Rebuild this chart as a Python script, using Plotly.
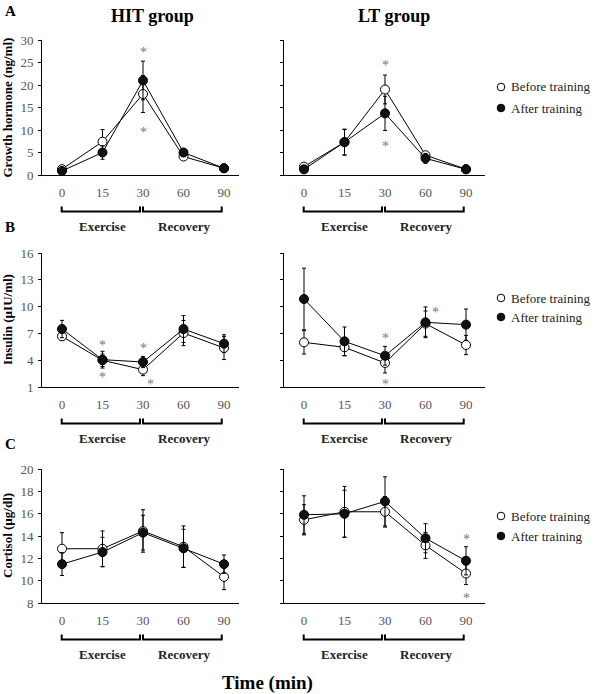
import plotly.graph_objects as go

W, H = 600, 694
FONT = "Liberation Serif"

times = ["0", "15", "30", "60", "90"]
groups = ["HIT group", "LT group"]
series_names = ["Before training", "After training"]
phase_labels = ["Exercise", "Recovery"]

# Growth hormone (ng/ml)
gh_hit_before = [1.3, 7.4, 18.0, 4.1, 1.5]
gh_hit_before_err = [0.5, 2.7, 4.1, 0.6, 0.4]
gh_hit_after = [0.9, 5.0, 21.0, 5.0, 1.5]
gh_hit_after_err = [0.4, 1.5, 4.3, 0.8, 0.4]
gh_lt_before = [1.85, 7.3, 19.0, 4.4, 1.3]
gh_lt_before_err = [0.5, 2.8, 3.2, 0.6, 0.3]
gh_lt_after = [1.26, 7.3, 13.7, 3.7, 1.26]
gh_lt_after_err = [0.4, 2.9, 3.8, 1.1, 0.3]

# Insulin (µIU/ml)
ins_hit_before = [6.67, 3.99, 2.94, 7.04, 5.37]
ins_hit_before_err = [0.45, 0.7, 0.67, 1.41, 1.3]
ins_hit_after = [7.49, 4.06, 3.8, 7.49, 5.85]
ins_hit_after_err = [0.97, 0.94, 0.63, 1.5, 1.0]
ins_lt_before = [6.0, 5.44, 3.69, 8.09, 5.7]
ins_lt_before_err = [1.31, 0.94, 1.12, 1.42, 1.08]
ins_lt_after = [10.85, 6.11, 4.5, 8.24, 7.98]
ins_lt_after_err = [3.45, 1.61, 1.05, 1.72, 1.75]

# Cortisol (µg/dl)
cor_hit_before = [12.86, 12.86, 14.45, 13.04, 10.34]
cor_hit_before_err = [1.44, 1.59, 1.9, 1.86, 1.14]
cor_hit_after = [11.48, 12.56, 14.3, 12.9, 11.48]
cor_hit_after_err = [1.02, 1.32, 1.56, 1.7, 0.82]
cor_lt_before = [15.45, 16.17, 16.17, 13.16, 10.64]
cor_lt_before_err = [1.35, 2.27, 1.37, 1.16, 0.99]
cor_lt_after = [15.9, 15.99, 17.1, 13.8, 11.78]
cor_lt_after_err = [1.7, 2.11, 2.2, 1.3, 1.26]

# significance asterisks: (time index, value, x pixel shift)
ast_gh_hit = [(2, 27.9, 0), (2, 10.1, 0)]
ast_gh_lt = [(2, 25.0, 0), (2, 6.9, 0)]
ast_ins_hit = [(1, 6.0, 0), (1, 2.38, 0), (2, 5.63, 0), (2, 1.63, 7)]
ast_ins_lt = [(2, 6.75, 0), (2, 1.63, 0), (3, 9.66, 10)]
ast_cor_hit = []
ast_cor_lt = [(4, 13.95, 0), (4, 8.7, 0)]

panels = [
    # (row, col, before, before_err, after, after_err, asterisks)
    (0, 0, gh_hit_before, gh_hit_before_err, gh_hit_after, gh_hit_after_err, ast_gh_hit),
    (0, 1, gh_lt_before, gh_lt_before_err, gh_lt_after, gh_lt_after_err, ast_gh_lt),
    (1, 0, ins_hit_before, ins_hit_before_err, ins_hit_after, ins_hit_after_err, ast_ins_hit),
    (1, 1, ins_lt_before, ins_lt_before_err, ins_lt_after, ins_lt_after_err, ast_ins_lt),
    (2, 0, cor_hit_before, cor_hit_before_err, cor_hit_after, cor_hit_after_err, ast_cor_hit),
    (2, 1, cor_lt_before, cor_lt_before_err, cor_lt_after, cor_lt_after_err, ast_cor_lt),
]

row_titles = ["Growth hormone (ng/ml)", "Insulin (µIU/ml)", "Cortisol (µg/dl)"]
row_letters = ["A", "B", "C"]
row_ranges = [[0, 30], [1, 16], [8, 20]]
row_dticks = [5, 3, 2]

# layout geometry in pixels
row_top = [40, 253, 469]
row_bot = [175, 387, 603]
col_left = [42, 284]
col_right = [239, 485]
col_tick0 = [62, 304]
STEP = 40.5
TICKCOL = "#555555"


def px(x):
    return x / W


def py(y):
    return 1 - y / H


xpos = list(range(len(times)))
fig = go.Figure()
layout = dict(
    template="none",
    width=W, height=H, margin=dict(l=0, r=0, t=0, b=0, pad=0), autosize=False,
    paper_bgcolor="white", plot_bgcolor="white", showlegend=False,
    font=dict(family=FONT, color="black"),
)
shapes = []
annotations = []

for i, (r, c, bef, bef_e, aft, aft_e, asts) in enumerate(panels):
    k = i + 1
    xa = "x" if k == 1 else f"x{k}"
    ya = "y" if k == 1 else f"y{k}"
    xkey = "xaxis" if k == 1 else f"xaxis{k}"
    ykey = "yaxis" if k == 1 else f"yaxis{k}"
    t0 = col_tick0[c]
    xr = [(col_left[c] - t0) / STEP, (col_right[c] - t0) / STEP]
    layout[xkey] = dict(
        domain=[px(col_left[c]), px(col_right[c])], range=xr, anchor=ya,
        tickvals=xpos, ticktext=times, ticks="", showline=True, linecolor="black",
        linewidth=1, showgrid=False, zeroline=False, automargin=False,
        tickfont=dict(family=FONT, size=13, color=TICKCOL), ticklabelstandoff=5,
    )
    layout[ykey] = dict(
        domain=[py(row_bot[r]), py(row_top[r])], range=row_ranges[r], anchor=xa,
        dtick=row_dticks[r], tick0=row_ranges[r][0], ticks="outside", ticklen=3,
        tickcolor="black", showline=True, linecolor="black", linewidth=1,
        showgrid=False, zeroline=False, showticklabels=(c == 0), automargin=False,
        tickfont=dict(family=FONT, size=13, color=TICKCOL), ticklabelstandoff=2,
    )
    for name, vals, errs, fill in [(series_names[0], bef, bef_e, "white"),
                                   (series_names[1], aft, aft_e, "#111")]:
        fig.add_trace(go.Scatter(
            x=xpos, y=vals, name=name, mode="lines+markers", xaxis=xa, yaxis=ya,
            line=dict(color="black", width=1),
            marker=dict(size=9, color=fill, line=dict(color="black", width=1)),
            error_y=dict(type="data", array=errs, color="black", thickness=1, width=2),
            cliponaxis=False, showlegend=False, hoverinfo="skip",
        ))
    for (ti, val, sh) in asts:
        annotations.append(dict(
            x=ti, y=val, xref=xa, yref=ya, text="*", showarrow=False, xshift=sh, yshift=-3,
            font=dict(family=FONT, size=14, color="#777"),
        ))
    # brackets
    by = row_bot[r] + 36.5
    segs = [((t0 - 0.3), 140 - 62 + t0), (143 - 62 + t0, 221.7 - 62 + t0)]
    for (a, b) in segs:
        xa0 = (a - t0) / STEP
        xa1 = (b - t0) / STEP
        shapes.append(dict(
            type="path", xref=xa, yref="paper",
            path=f"M {xa0},{py(by - 5)} L {xa0},{py(by)} L {xa1},{py(by)} L {xa1},{py(by - 5)}",
            line=dict(color="black", width=2),
        ))
    for lbl, ctr in zip(phase_labels, [1.0, 3.0]):
        annotations.append(dict(
            x=ctr, y=py(by + 15), xref=xa, yref="paper", text=f"<b>{lbl}</b>",
            showarrow=False, yanchor="middle",
            font=dict(family=FONT, size=13, color="#222"),
        ))

# row titles, letters
row_mid = [(row_top[r] + row_bot[r]) / 2 for r in range(3)]
for r in range(3):
    annotations.append(dict(
        x=px(7), y=py(row_mid[r]), xref="paper", yref="paper", text=f"<b>{row_titles[r]}</b>",
        textangle=-90, showarrow=False, xanchor="center", yanchor="middle",
        font=dict(family=FONT, size=13, color="black"),
    ))
letter_y = [11, 227, 444]
for r in range(3):
    annotations.append(dict(
        x=px(3), y=py(letter_y[r]), xref="paper", yref="paper", text=f"<b>{row_letters[r]}</b>",
        showarrow=False, xanchor="left", yanchor="middle",
        font=dict(family=FONT, size=15, color="black"),
    ))

# column titles
for g, cx in zip(groups, [152, 394]):
    annotations.append(dict(
        x=px(cx), y=py(16), xref="paper", yref="paper", text=f"<b>{g}</b>",
        showarrow=False, xanchor="center", yanchor="middle",
        font=dict(family=FONT, size=18, color="black"),
    ))

annotations.append(dict(
    x=px(267), y=py(683), xref="paper", yref="paper", text="<b>Time (min)</b>",
    showarrow=False, xanchor="center", yanchor="middle",
    font=dict(family=FONT, size=19, color="black"),
))

# legends (one per row)
leg_y = [(87, 108), (298, 317), (516, 536)]
for r in range(3):
    for j, (name, fill) in enumerate(zip(series_names, ["white", "#111"])):
        cy = leg_y[r][j]
        shapes.append(dict(
            type="circle", xref="paper", yref="paper",
            x0=px(501 - 3.8), x1=px(501 + 3.8), y0=py(cy + 3.8), y1=py(cy - 3.8),
            fillcolor=fill, line=dict(color="black", width=1),
        ))
        annotations.append(dict(
            x=px(509), y=py(cy), xref="paper", yref="paper", text=name,
            showarrow=False, xanchor="left", yanchor="middle",
            font=dict(family=FONT, size=13, color="#222"),
        ))

layout["shapes"] = shapes
layout["annotations"] = annotations
fig.update_layout(**layout)
fig.write_html(
    "out.html",
    config={"displayModeBar": False, "staticPlot": True},
    post_script="document.body.style.margin='0';document.body.style.overflow='hidden';",
)
